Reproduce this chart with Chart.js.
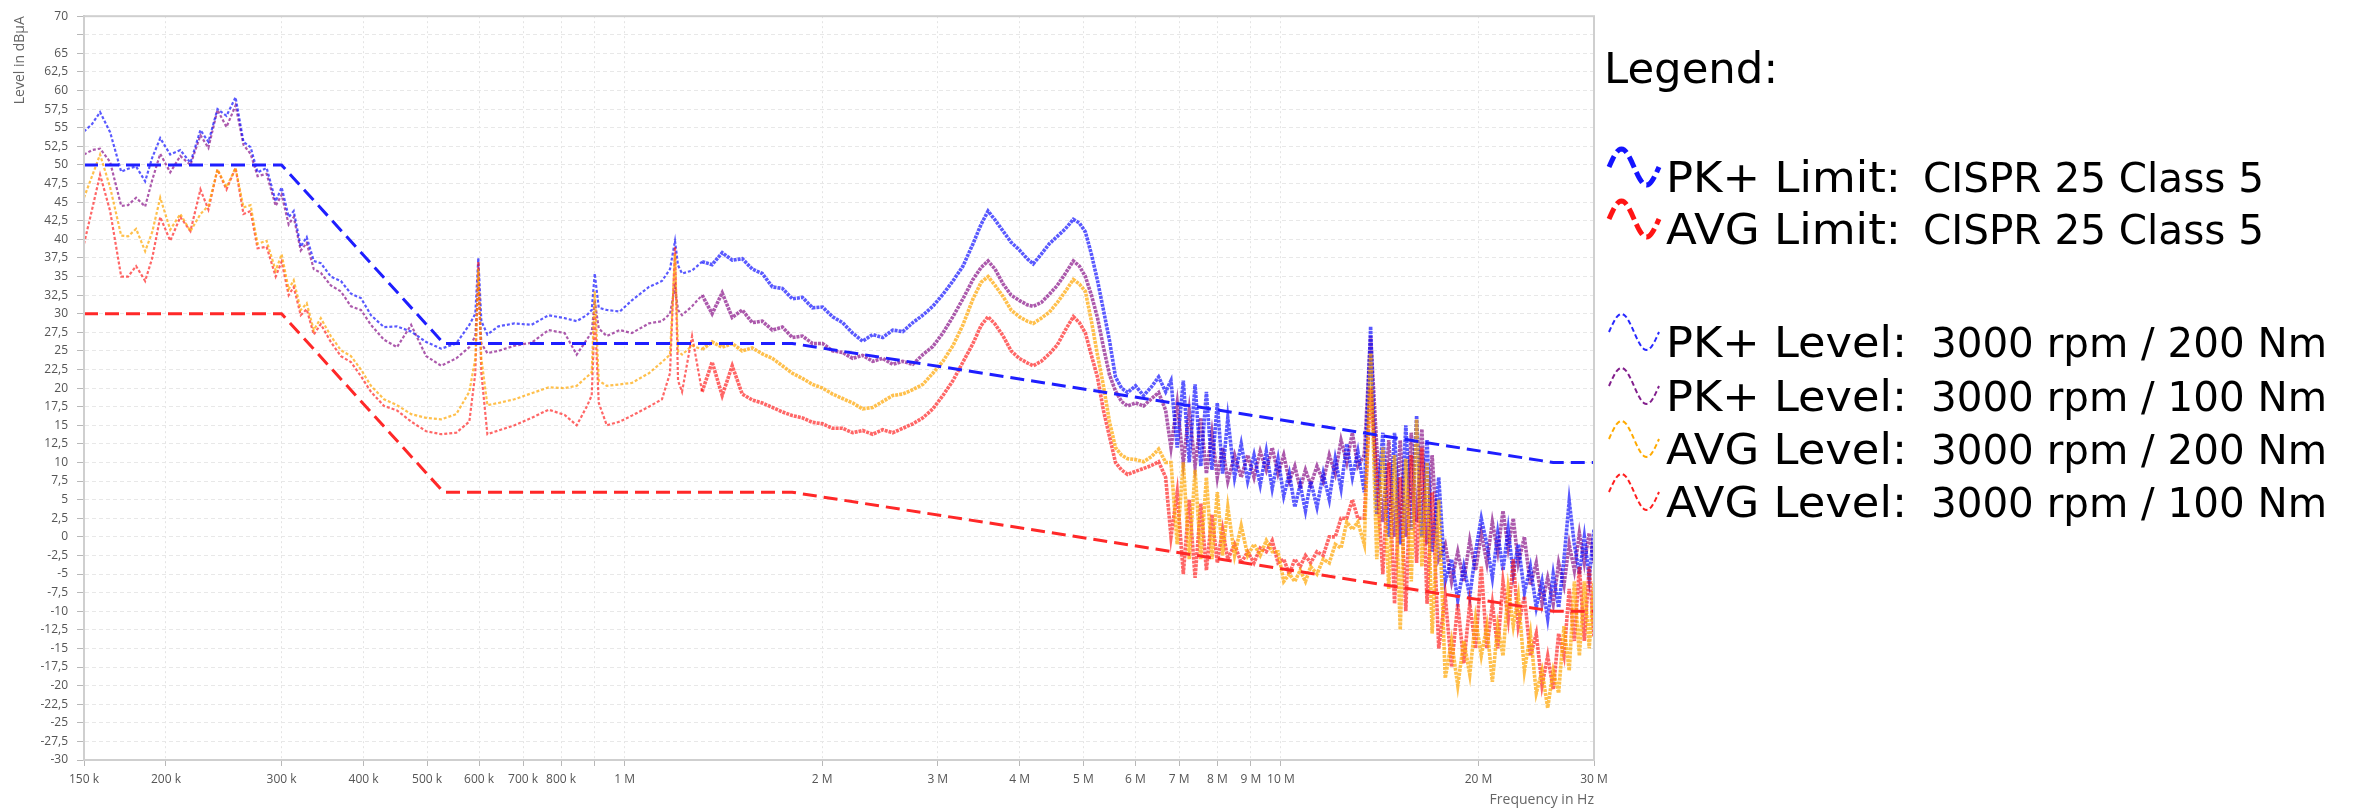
<!DOCTYPE html>
<html>
<head>
<meta charset="utf-8">
<title>CISPR 25 conducted emissions</title>
<script src="https://cdn.jsdelivr.net/npm/chart.js@4.4.1/dist/chart.umd.min.js"></script>
<style>
  html, body { margin: 0; padding: 0; background: #fff; }
  canvas { display: block; }
</style>
</head>
<body>
<canvas id="emiChart" width="2356" height="808"></canvas>
<script>
// frequency sweep in kHz (shared by all four measured traces)
const freqKHz = [
  150, 154.3, 158.7, 164.4, 170.9, 175.1, 180.1, 185.9, 190.6, 196.0,
  203.0, 210.3, 217.9, 225.7, 232.1, 239.6, 247.3, 255.3, 262.5, 269.1,
  275.8, 284.7, 293.9, 300.1, 307.6, 313.1, 320.9, 327.7, 335.9, 344.3,
  356.6, 369.4, 382.7, 396.4, 410.6, 429.8, 449.9, 472.7, 498.3, 525.3,
  553.8, 579.8, 592.1, 598.4, 604.8, 617.7, 642.1, 679.3, 721.2, 765.7,
  810.1, 845.0, 875.3, 890.8, 900.3, 913.1, 939.2, 983.2, 1025.6, 1088.8,
  1139.8, 1172.4, 1193.2, 1205.9, 1223.0, 1266.8, 1312.2, 1359.2, 1408.0, 1458.4,
  1510.6, 1564.7, 1620.8, 1678.9, 1739.0, 1801.3, 1865.9, 1932.7, 2002.0, 2073.7,
  2148.0, 2225.0, 2304.7, 2387.3, 2472.8, 2561.4, 2653.2, 2748.3, 2846.8, 2948.8,
  3054.4, 3163.9, 3277.2, 3394.7, 3491.7, 3578.8, 3668.1, 3772.9, 3880.7, 3991.5,
  4105.6, 4193.2, 4313.0, 4436.3, 4563.0, 4693.4, 4827.5, 4930.5, 5035.8, 5143.3,
  5253.2, 5365.3, 5479.9, 5596.9, 5716.4, 5838.5, 6005, 6176.8, 6353.2, 6511.7, 6674.2,
  6800, 6950, 7100, 7250, 7400, 7550, 7700, 7850, 8000, 8150,
  8300, 8500, 8700, 8900, 9100, 9300, 9500, 9700, 9900, 10100,
  10300, 10500, 10700, 10900, 11100, 11350, 11600, 11850, 12100, 12350,
  12600, 12850, 13100, 13400, 13700, 14000, 14300, 14600, 14900, 15200,
  15500, 15800, 16100, 16400, 16700, 17000, 17400, 17800, 18200, 18600,
  19000, 19400, 19800, 20200, 20600, 21000, 21400, 21800, 22200, 22600,
  23000, 23500, 24000, 24500, 25000, 25500, 26000, 26500, 27000, 27500,
  28000, 28500, 29000, 29500, 30000
];

// PK+ Level 3000 rpm / 200 Nm (dBuA)
const pk200 = [
  54.5, 55.5, 57.1, 54.4, 49.1, 49.5, 49.8, 47.8, 51.0, 53.6,
  51.4, 52.0, 50.3, 54.7, 53.1, 57.5, 56.6, 59.1, 53.1, 52.4,
  49.0, 49.6, 45.1, 47.0, 43.0, 43.8, 39.0, 40.3, 37.1, 36.8,
  35.0, 34.4, 32.7, 32.1, 29.8, 28.2, 28.3, 27.6, 26.2, 25.3,
  26.0, 28.5, 30.0, 37.5, 29.0, 27.2, 28.3, 28.7, 28.5, 29.8,
  29.4, 29.0, 29.8, 30.5, 35.4, 30.8, 30.5, 30.3, 31.8, 33.6,
  34.4, 36.0, 39.8, 36.5, 35.4, 35.8, 37.0, 36.6, 38.2, 37.2,
  37.4, 36.0, 35.4, 33.6, 33.4, 32.0, 32.2, 30.8, 30.9, 29.6,
  28.8, 27.4, 26.3, 27.2, 26.8, 27.8, 27.6, 28.8, 29.8, 31.0,
  32.6, 34.4, 36.4, 39.4, 42.0, 43.8, 42.6, 41.1, 39.6, 38.6,
  37.4, 36.7, 38.0, 39.4, 40.4, 41.4, 42.7, 42.2, 41.0, 38.0,
  34.5, 30.5, 26.4, 21.5, 20.0, 19.4, 20.3, 19.0, 20.2, 21.5, 19.5,
  21, 12, 21, 10, 20.5, 9.5, 19.5, 9, 18, 8.5,
  16, 8, 12.5, 7.5, 11, 7, 11.5, 6.5, 10.5, 5.5,
  8.5, 4, 7, 3.5, 7.5, 4, 8.5, 5, 10.5, 6.5,
  12.5, 8, 11.5, 6, 28.3, 3, 14, 0, 14, -1,
  15, 1, 16.3, 0, 13, -2, 8, -6, -3, -8.5,
  -4, -8, -2, 2.5, -1, -5.5, 0.5, -4.5, 1, -5,
  -1, -7.5, -4, -9.5, -6, -11, -5, -9.5, -3, 4.8,
  -1, -5, 0, -5.5, 1
];

// PK+ Level 3000 rpm / 100 Nm
const pk100 = [
  51.4, 52.0, 52.2, 50.4, 44.5, 44.6, 45.6, 44.4, 48.0, 51.5,
  49.0, 51.2, 50.0, 54.0, 52.3, 57.4, 55.1, 58.0, 52.7, 51.5,
  48.5, 48.8, 44.5, 46.0, 42.0, 43.0, 38.5, 39.5, 36.0, 35.5,
  33.8, 33.0, 31.0, 30.5, 28.5, 26.5, 25.5, 28.5, 24.3, 23.0,
  24.0, 25.5, 27.0, 34.0, 26.0, 24.7, 25.0, 25.7, 26.1, 27.8,
  27.4, 24.5, 26.5, 27.5, 31.8, 28.0, 27.0, 27.8, 27.4, 28.7,
  29.0, 30.0, 33.6, 30.5, 29.8, 31.0, 32.5, 30.0, 32.8, 29.5,
  30.5, 28.8, 29.0, 27.8, 28.2, 26.8, 27.0, 26.0, 26.0, 25.0,
  24.8, 24.0, 24.4, 23.6, 24.0, 23.2, 23.6, 23.2, 24.5, 25.6,
  27.4, 29.6, 32.0, 34.6, 36.2, 37.1, 36.0, 34.0, 32.5, 31.8,
  31.2, 31.0, 31.5, 32.6, 33.8, 35.4, 37.1, 36.4, 35.0, 32.5,
  29.5, 25.5, 21.8, 19.6, 18.2, 17.6, 18.0, 17.6, 18.6, 19.4, 17.0,
  12, 18, 10, 17, 9.5, 16, 8.5, 14, 8, 12,
  7.5, 11, 8, 11, 8, 11.5, 9, 12, 8.5, 11,
  7.5, 9.5, 6.5, 9, 7, 9.5, 7.5, 11, 8.5, 13,
  10, 14, 9.5, 11, 27, 12, 2, 13, 0, 13,
  0, 14, 2, 14.5, -1, 11, -3, -1, -6, -2,
  -6, -0.5, -4.5, 0.5, -3.5, 2, -2, 3.5, -1.5, 2.5,
  -3.5, 0, -6.5, -3.5, -9, -5.5, -9, -3.5, -6.5, -1,
  -4.5, 0.5, -3.5, 0.5, -3.5
];

// AVG Level 3000 rpm / 200 Nm
const avg200 = [
  45.6, 48.5, 51.4, 47.0, 40.5, 40.4, 41.4, 38.4, 41.0, 45.6,
  41.3, 43.4, 41.1, 43.4, 44.5, 49.4, 47.0, 49.6, 44.3, 44.6,
  39.4, 39.8, 35.8, 38.0, 33.3, 34.5, 30.5, 31.4, 27.8, 29.4,
  27.0, 25.1, 24.3, 22.5, 20.3, 18.5, 17.7, 16.5, 16.0, 15.8,
  16.5, 19.5, 24.0, 36.0, 24.0, 17.7, 18.0, 18.5, 19.3, 20.1,
  20.0, 20.3, 21.5, 22.1, 33.0, 21.0, 20.3, 20.5, 20.7, 22.0,
  23.5, 24.5, 38.0, 25.0, 24.5, 25.7, 25.2, 26.2, 25.5, 26.0,
  25.0, 25.4, 24.6, 24.0, 23.0, 22.0, 21.3, 20.5, 20.0, 19.2,
  18.6, 18.0, 17.2, 17.4, 18.2, 19.0, 19.2, 19.8, 20.5, 22.0,
  23.6, 25.7, 28.5, 32.0, 34.2, 35.0, 33.8, 32.3, 30.5, 29.6,
  29.0, 28.7, 29.4, 30.2, 31.5, 33.0, 34.6, 34.0, 33.0, 29.0,
  24.5, 20.3, 15.5, 12.0, 11.0, 10.5, 10.4, 10.1, 10.8, 11.8, 10.0,
  10, -1, 10, -3, 9, -3, 8, -3, 6, -2.5,
  4, -2.5, 1.5, -2.5, -1, -2.5, -0.5, -2, -2, -6,
  -5, -6, -4.5, -6, -4, -5, -3, -3.5, -1, -1.5,
  2, 1, 2, -1, 24.7, -3, 12, -7, 11, -12.5,
  10.5, -6, 15.8, -4, 10, -13, 5, -19, -14, -20,
  -14, -18.5, -11, -16, -12, -19.5, -12, -16, -7, -12,
  -8, -18, -13, -21, -18, -23, -18, -21, -12, -18,
  -6, -16, -6, -15, -6
];

// AVG Level 3000 rpm / 100 Nm
const avg100 = [
  39.4, 44.0, 48.7, 43.8, 35.0, 35.0, 36.4, 34.4, 37.5, 43.0,
  39.8, 43.0, 41.1, 46.7, 44.0, 49.4, 46.7, 49.6, 43.4, 43.8,
  38.8, 39.0, 35.0, 37.0, 32.5, 33.6, 29.8, 30.6, 27.2, 28.6,
  26.2, 24.3, 23.5, 21.6, 19.5, 17.6, 17.0, 15.5, 14.2, 13.8,
  14.0, 15.5, 22.0, 37.0, 22.0, 13.8, 14.3, 15.0, 16.0, 17.1,
  16.4, 15.0, 17.5, 19.0, 30.0, 18.0, 15.0, 15.5, 16.3, 17.5,
  18.5, 22.0, 39.0, 21.0, 19.5, 27.0, 19.5, 23.5, 19.0, 23.0,
  19.2, 18.4, 18.0, 17.4, 16.8, 16.3, 16.0, 15.4, 15.2, 14.6,
  14.6, 14.0, 14.3, 13.8, 14.4, 14.0, 14.6, 15.2, 16.0, 17.2,
  19.0, 21.0, 23.5, 26.0, 28.4, 29.6, 28.6, 27.0, 25.0, 24.0,
  23.4, 23.0, 23.6, 24.6, 25.8, 27.8, 29.6, 28.8, 27.4, 24.4,
  21.5, 17.0, 13.5, 10.0, 9.0, 8.4, 8.8, 9.2, 9.6, 10.1, 8.0,
  0, 6, -5, 5, -5.5, 4.5, -4.5, 3, -3.5, 1,
  -3, -1, -3.5, -2, -3.5, -1.5, -2, -0.5, -3.5, -3,
  -5, -3, -4, -2.5, -3.5, -2, -2.5, 0, 0, 2.5,
  2.5, 5, 2.5, 2.5, 20, 8, -5, 10, -9, 8,
  -10, 11, -3.5, 12, -9, 6, -15, -8, -17.5, -9,
  -17, -9, -15, -4, -15, -9, -15, -6, -11, -3,
  -12, -8, -16, -13, -20, -16, -20.5, -13, -16, -7,
  -14, -4, -14, -4, -13.5
];

// CISPR 25 Class 5 limit lines
const limitFreqKHz = [150, 300, 530, 1800, 26000, 30000];
const pkLimit = [50, 50, 26, 26, 10, 10];
const avgLimit = [30, 30, 6, 6, -10, -10];

// axis ticks
const xTickValues = [150, 200, 300, 400, 500, 600, 700, 800, 900, 1000, 2000, 3000, 4000, 5000, 6000, 7000, 8000, 9000, 10000, 20000, 30000];
const xTickLabels = ['150 k', '200 k', '300 k', '400 k', '500 k', '600 k', '700 k', '800 k', '', '1 M', '2 M', '3 M', '4 M', '5 M', '6 M', '7 M', '8 M', '9 M', '10 M', '20 M', '30 M'];

// legend text
const legendLabels = ['PK+ Limit:', 'AVG Limit:', 'PK+ Level:', 'PK+ Level:', 'AVG Level:', 'AVG Level:'];
const legendValues = ['CISPR 25 Class 5', 'CISPR 25 Class 5', '3000 rpm / 200 Nm', '3000 rpm / 100 Nm', '3000 rpm / 200 Nm', '3000 rpm / 100 Nm'];
const legendColors = ['rgb(20,20,255)', 'rgb(255,20,20)', 'rgb(40,40,255)', 'rgb(130,30,140)', 'rgb(255,170,0)', 'rgb(255,30,30)'];

function toPoints(xs, ys) {
  return xs.map((x, i) => ({ x: x, y: ys[i] }));
}

// stretch/squeeze a text run to the width it has in the reference
function fitText(ctx, text, x, y, width) {
  const natural = ctx.measureText(text).width;
  ctx.save();
  ctx.translate(x, y);
  ctx.scale(width / natural, 1);
  ctx.fillText(text, 0, 0);
  ctx.restore();
}

function drawWave(ctx, x0, yc, w, amp) {
  ctx.beginPath();
  for (let i = 0; i <= 40; i++) {
    const t = i / 40;
    const px = x0 + t * w;
    const py = yc - amp * Math.sin(t * 2 * Math.PI);
    if (i === 0) ctx.moveTo(px, py); else ctx.lineTo(px, py);
  }
  ctx.stroke();
}

const sideLegend = {
  id: 'sideLegend',
  afterDraw(chart) {
    const ctx = chart.ctx;
    ctx.save();
    ctx.fillStyle = '#000';
    ctx.textBaseline = 'alphabetic';
    ctx.textAlign = 'left';
    ctx.font = '42px "DejaVu Sans", Verdana, sans-serif';
    fitText(ctx, 'Legend:', 1604, 83, 174);

    const baselines = [192, 244, 357, 411, 464, 517];
    baselines.forEach((by, i) => {
      const isLimit = i < 2;
      ctx.strokeStyle = legendColors[i];
      ctx.lineWidth = isLimit ? 5 : 2;
      ctx.setLineDash(isLimit ? [12, 5] : [5, 3]);
      drawWave(ctx, 1609, by - 25, 50, 18);
      ctx.setLineDash([]);

      ctx.fillStyle = '#000';
      ctx.font = '42px "DejaVu Sans", Verdana, sans-serif';
      fitText(ctx, legendLabels[i], 1666, by, isLimit ? 235 : 241);
      ctx.font = '41px "DejaVu Sans", Tahoma, sans-serif';
      fitText(ctx, legendValues[i], isLimit ? 1923 : 1931, by, isLimit ? 341 : 396);
    });
    ctx.restore();
  }
};

const plotFrame = {
  id: 'plotFrame',
  afterDraw(chart) {
    const a = chart.chartArea;
    const ctx = chart.ctx;
    ctx.save();
    ctx.strokeStyle = '#cfcfcf';
    ctx.lineWidth = 2;
    ctx.strokeRect(a.left, a.top, a.right - a.left, a.bottom - a.top);
    ctx.restore();
  }
};

Chart.defaults.font.family = "'Open Sans', 'Liberation Sans', sans-serif";

// above ~1 MHz the measured traces are noisy and read as thicker bands
const traceStyle = (color) => ({
  borderColor: color,
  borderWidth: 2.2,
  borderDash: [3, 2],
  pointRadius: 0,
  fill: false,
  tension: 0,
  segment: {
    borderWidth: (c) => c.p0.parsed.x >= 1300 ? 3.6 : 2.2,
    borderDash: (c) => c.p0.parsed.x >= 1300 ? [3, 1] : [3, 2]
  }
});

const limitStyle = (color) => ({
  borderColor: color,
  borderWidth: 3,
  borderDash: [14, 7],
  pointRadius: 0,
  fill: false,
  tension: 0
});

const ctx = document.getElementById('emiChart').getContext('2d');
new Chart(ctx, {
  type: 'line',
  data: {
    datasets: [
      Object.assign({ label: 'PK+ Limit: CISPR 25 Class 5', data: toPoints(limitFreqKHz, pkLimit) }, limitStyle('rgb(30,30,255)')),
      Object.assign({ label: 'AVG Limit: CISPR 25 Class 5', data: toPoints(limitFreqKHz, avgLimit) }, limitStyle('rgb(255,40,40)')),
      Object.assign({ label: 'AVG Level: 3000 rpm / 200 Nm', data: toPoints(freqKHz, avg200) }, traceStyle('rgba(255,165,0,0.7)')),
      Object.assign({ label: 'AVG Level: 3000 rpm / 100 Nm', data: toPoints(freqKHz, avg100) }, traceStyle('rgba(255,0,0,0.6)')),
      Object.assign({ label: 'PK+ Level: 3000 rpm / 200 Nm', data: toPoints(freqKHz, pk200) }, traceStyle('rgba(0,0,255,0.65)')),
      Object.assign({ label: 'PK+ Level: 3000 rpm / 100 Nm', data: toPoints(freqKHz, pk100) }, traceStyle('rgba(128,0,128,0.65)'))
    ]
  },
  options: {
    responsive: false,
    devicePixelRatio: 1,
    animation: false,
    layout: { padding: { left: 0, right: 762, top: 10, bottom: 0 } },
    plugins: {
      legend: { display: false },
      tooltip: { enabled: false }
    },
    scales: {
      x: {
        type: 'logarithmic',
        min: 150,
        max: 30000,
        afterBuildTicks: (scale) => {
          scale.ticks = xTickValues.map(v => ({ value: v }));
        },
        afterFit: (scale) => { scale.height = 48; },
        ticks: {
          autoSkip: false,
          maxRotation: 0,
          padding: 6,
          color: '#555',
          font: { size: 12 },
          callback: (value, index) => xTickLabels[index]
        },
        grid: { color: '#e4e4e4', tickLength: 6, tickColor: '#b8b8b8' },
        border: { color: '#c8c8c8', width: 2, dash: [2, 3] },
        title: {
          display: true,
          text: 'Frequency in Hz',
          align: 'end',
          color: '#666',
          font: { size: 14 },
          padding: { top: 0, bottom: 0 }
        }
      },
      y: {
        min: -30,
        max: 70,
        afterFit: (scale) => { scale.width = 84; },
        ticks: {
          stepSize: 2.5,
          autoSkip: false,
          padding: 9,
          color: '#555',
          font: { size: 12 },
          callback: (value) => value === 67.5 ? '' : String(value).replace('.', ',')
        },
        grid: { color: '#e8e8e8', tickLength: 7, tickColor: '#b8b8b8' },
        border: { color: '#c8c8c8', width: 2, dash: [4, 3] },
        title: {
          display: true,
          text: 'Level in dBµA',
          align: 'end',
          color: '#666',
          font: { size: 14 },
          padding: { top: 12, bottom: 0 }
        }
      }
    }
  },
  plugins: [plotFrame, sideLegend]
});
</script>
</body>
</html>
